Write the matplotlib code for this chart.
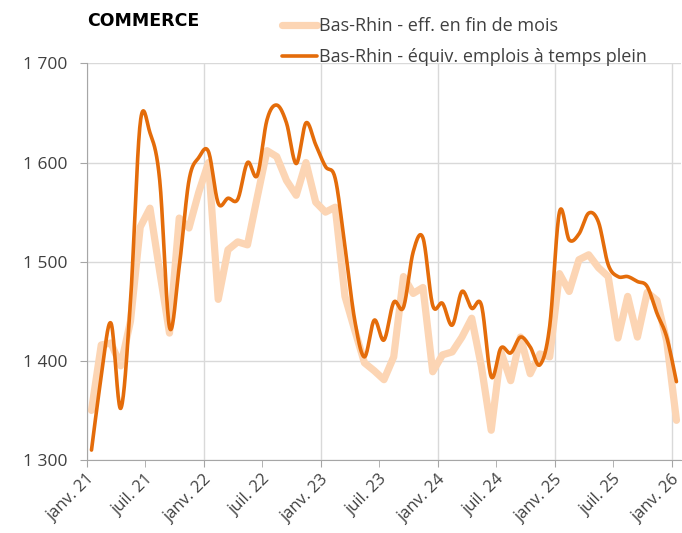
import numpy as np
import matplotlib
matplotlib.use("Agg")
from matplotlib import pyplot as plt

# monthly values, janv. 21 -> janv. 26
eff_fin_mois = [1350, 1416, 1418, 1395, 1440, 1535, 1554, 1490, 1428, 1544,
                1534, 1570, 1600, 1462, 1512, 1520, 1517, 1565, 1612, 1606,
                1582, 1567, 1600, 1560, 1550, 1555, 1465, 1431, 1398, 1390,
                1381, 1404, 1485, 1468, 1474, 1389, 1406, 1409, 1424, 1443,
                1394, 1330, 1409, 1380, 1424, 1387, 1407, 1404, 1488, 1470,
                1502, 1507, 1494, 1485, 1423, 1465, 1424, 1469, 1461, 1420,
                1340]
equiv_tp = [1310, 1384, 1438, 1352, 1460, 1640, 1630, 1582, 1434, 1495,
            1582, 1605, 1611, 1559, 1564, 1563, 1600, 1587, 1643, 1658,
            1640, 1599, 1640, 1618, 1596, 1584, 1515, 1441, 1404, 1441,
            1421, 1459, 1454, 1510, 1524, 1456, 1458, 1436, 1470, 1453,
            1456, 1384, 1413, 1408, 1424, 1414, 1396, 1435, 1550, 1522,
            1528, 1549, 1540, 1497, 1485, 1485, 1480, 1475, 1448, 1424,
            1379]
tick_labels = ["janv. 21", "juil. 21", "janv. 22", "juil. 22", "janv. 23",
               "juil. 23", "janv. 24", "juil. 24", "janv. 25", "juil. 25",
               "janv. 26"]

light = "#FCD5B4"
dark = "#E46C0A"
grey = "#404040"


def smooth(x, y, n=20):
    # Catmull-Rom like smoothing (as in spreadsheet "smoothed line")
    x = np.asarray(x, float)
    y = np.asarray(y, float)
    px = np.concatenate([[x[0]], x, [x[-1]]])
    py = np.concatenate([[y[0]], y, [y[-1]]])
    xs, ys = [], []
    t = np.linspace(0, 1, n)
    for k in range(1, len(px) - 2):
        p0, p1, p2, p3 = px[k - 1], px[k], px[k + 1], px[k + 2]
        q0, q1, q2, q3 = py[k - 1], py[k], py[k + 1], py[k + 2]
        c1x, c1y = p1 + (p2 - p0) / 6, q1 + (q2 - q0) / 6
        c2x, c2y = p2 - (p3 - p1) / 6, q2 - (q3 - q1) / 6
        b = [(1 - t) ** 3, 3 * (1 - t) ** 2 * t, 3 * (1 - t) * t ** 2, t ** 3]
        xs.append(b[0] * p1 + b[1] * c1x + b[2] * c2x + b[3] * p2)
        ys.append(b[0] * q1 + b[1] * c1y + b[2] * c2y + b[3] * q2)
    return np.concatenate(xs), np.concatenate(ys)


plt.rcParams['font.family'] = ['Open Sans', 'DejaVu Sans']

fig = plt.figure(figsize=(6.82, 5.33), dpi=100)
ax = fig.add_axes([0.127, 0.137, 0.872, 0.744])

xs = np.arange(len(eff_fin_mois)) + 0.5
ax.plot(xs, eff_fin_mois, color=light, lw=5.2, solid_joinstyle='round',
        solid_capstyle='round', label="Bas-Rhin - eff. en fin de mois")
sx, sy = smooth(xs, equiv_tp)
ax.plot(sx, sy, color=dark, lw=2.6, solid_capstyle='round',
        label="Bas-Rhin - équiv. emplois à temps plein")

ax.set_xlim(0, len(eff_fin_mois))
ax.set_ylim(1300, 1700)
ax.set_yticks([1300, 1400, 1500, 1600, 1700])
ax.set_yticklabels(["1 300", "1 400", "1 500", "1 600", "1 700"])

ax.set_xticks(np.arange(0, 61, 12))
ax.set_xticks(np.arange(6, 61, 12), minor=True)
ax.set_xticklabels(tick_labels[0::2])
ax.set_xticklabels(tick_labels[1::2], minor=True)
for lab in ax.get_xticklabels(which='both'):
    lab.set_rotation(45)
    lab.set_ha('right')
    lab.set_rotation_mode('anchor')

ax.grid(True, which='major', color='#D9D9D9', lw=1)
ax.set_axisbelow(True)
for s in ['top', 'right']:
    ax.spines[s].set_visible(False)
for s in ['left', 'bottom']:
    ax.spines[s].set_color('#A6A6A6')
ax.tick_params(which='both', axis='x', length=5, color='#A6A6A6',
               labelsize=12, labelcolor=grey, pad=3)
ax.tick_params(axis='y', length=5, color='#A6A6A6', labelsize=12.5,
               labelcolor=grey, pad=9)

fig.text(0.128, 0.96, "COMMERCE", fontsize=12.5, fontweight='bold',
         family=['DejaVu Sans'], va='center')

fig.legend(loc='upper left', bbox_to_anchor=(0.39, 0.998), frameon=False,
           fontsize=13, handlelength=1.95, handletextpad=0.1,
           labelspacing=0.7, labelcolor=grey)

fig.savefig("out.png", dpi=100)
